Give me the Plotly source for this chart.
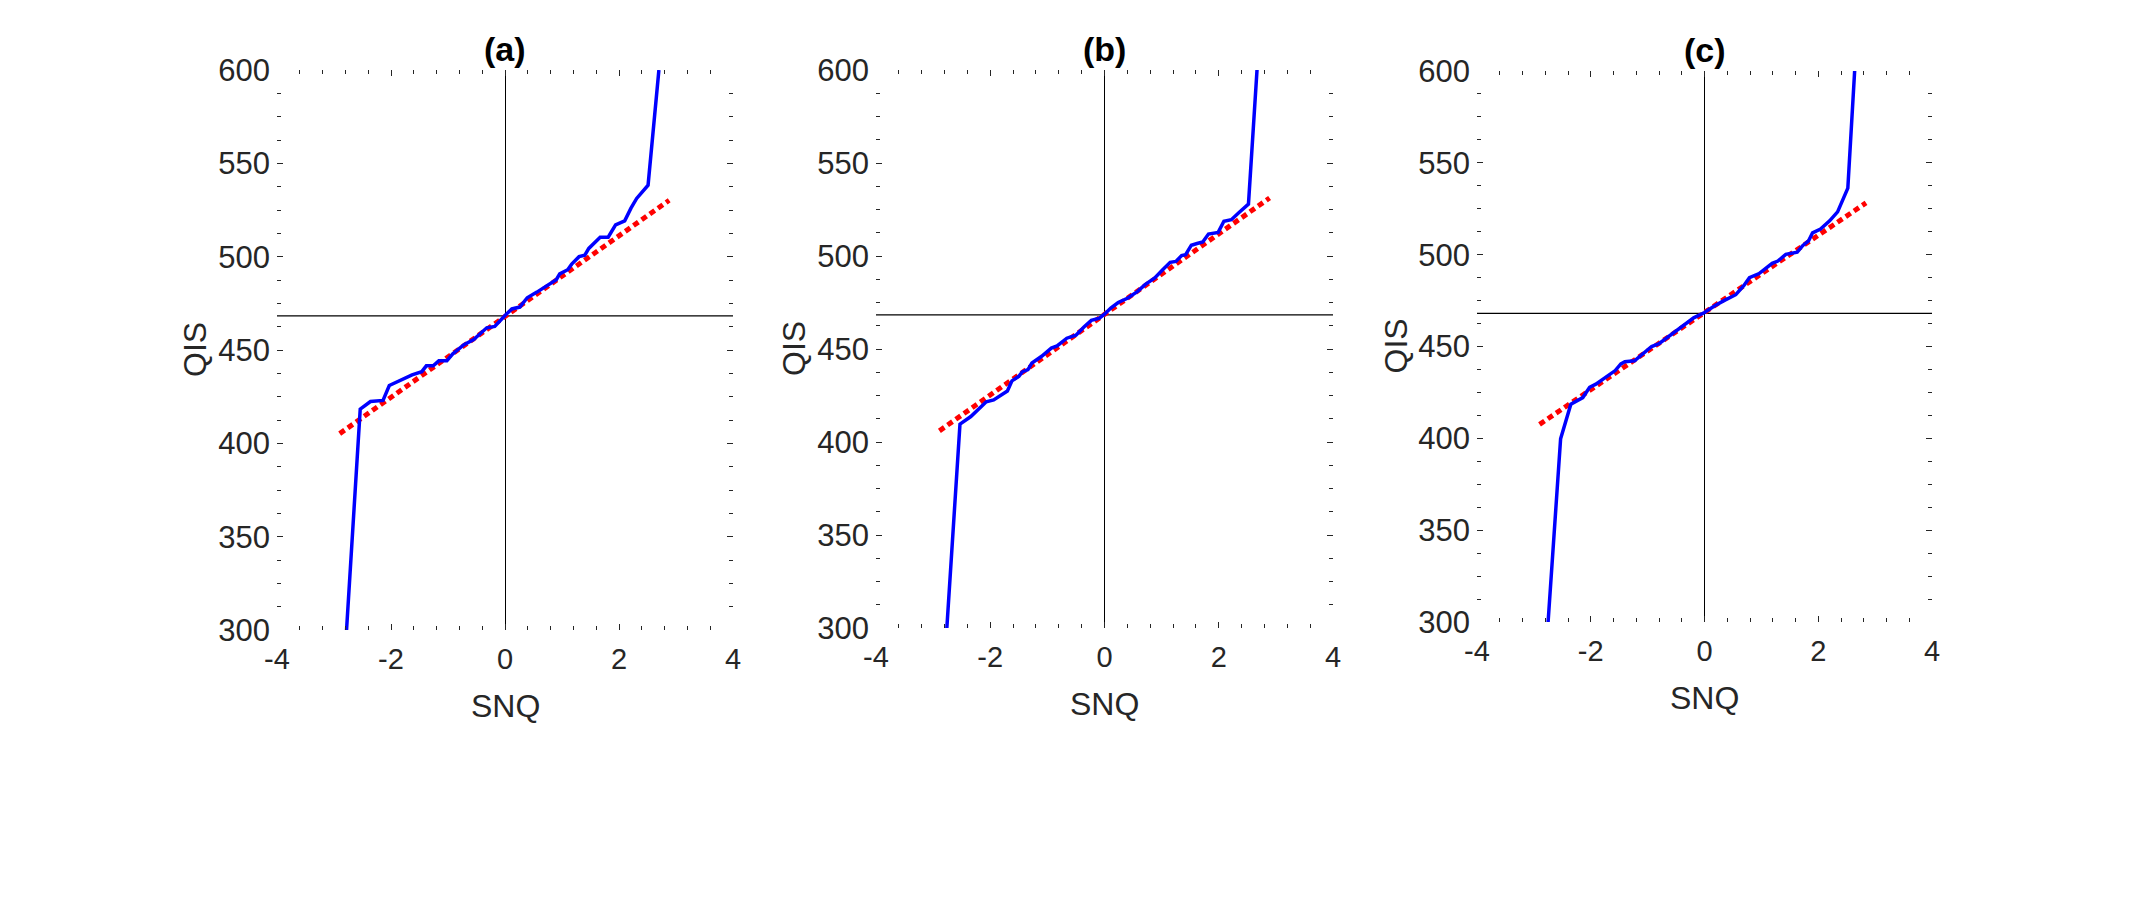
import plotly.graph_objects as go

# ---------------- data ----------------
panel_labels = ["(a)", "(b)", "(c)"]
x_title = "SNQ"
y_title = "QIS"

a_snq = [-2.78, -2.54, -2.36, -2.14, -2.03, -1.87, -1.63, -1.46, -1.38, -1.26, -1.16, -1.02,
         -0.92, -0.72, -0.55, -0.32, -0.18, 0.0, 0.12, 0.26, 0.39, 0.56, 0.76, 0.90, 0.96,
         1.10, 1.17, 1.30, 1.40, 1.47, 1.67, 1.81, 1.94, 2.10, 2.21, 2.31, 2.51, 2.70]
a_qis = [300.0, 418.3, 422.4, 423.0, 431.0, 433.4, 436.7, 438.4, 441.5, 441.5, 444.2, 444.2,
         447.8, 452.8, 455.6, 461.9, 462.6, 468.5, 472.0, 473.0, 478.0, 481.0, 484.8, 487.7, 490.8,
         493.0, 496.0, 500.0, 500.8, 504.4, 510.4, 510.4, 517.0, 519.2, 526.0, 531.2, 538.3, 600.0]

b_snq = [-2.76, -2.53, -2.34, -2.21, -2.07, -1.94, -1.84, -1.70, -1.62, -1.50, -1.44, -1.34,
         -1.27, -1.10, -0.93, -0.83, -0.66, -0.50, -0.36, -0.23, -0.09, 0.0, 0.11, 0.24, 0.41,
         0.58, 0.71, 0.88, 1.01, 1.15, 1.25, 1.35, 1.42, 1.52, 1.62, 1.72, 1.82, 1.99, 2.09,
         2.22, 2.36, 2.52, 2.67]
b_qis = [300.0, 409.6, 413.7, 417.3, 421.6, 422.6, 424.5, 427.4, 432.9, 435.3, 437.7, 438.9,
         442.5, 446.1, 450.5, 451.7, 455.8, 457.4, 461.8, 465.4, 466.6, 468.7, 472.0, 475.0, 477.4,
         481.0, 484.6, 488.2, 492.3, 496.6, 497.1, 500.2, 500.7, 505.8, 506.7, 507.5, 511.8, 512.7, 518.7,
         519.5, 523.5, 527.9, 600.0]

c_snq = [-2.75, -2.53, -2.35, -2.14, -2.02, -1.91, -1.74, -1.57, -1.47, -1.40, -1.23, -1.06,
         -0.93, -0.80, -0.59, -0.39, -0.19, 0.0, 0.18, 0.35, 0.55, 0.69, 0.79, 0.96, 1.19,
         1.29, 1.43, 1.63, 1.73, 1.83, 1.90, 2.04, 2.20, 2.34, 2.52, 2.64]
c_qis = [300.0, 399.8, 418.6, 422.2, 427.8, 429.5, 433.2, 436.9, 440.5, 441.7, 442.2, 446.6,
         450.0, 451.5, 456.3, 461.2, 465.6, 468.5, 472.2, 475.1, 478.2, 483.1, 487.5, 489.7, 495.3,
         496.5, 500.2, 501.4, 505.0, 507.5, 511.9, 514.0, 518.4, 523.3, 536.2, 600.0]

# reference (fit) lines
a_fit_snq = [-2.90, 2.88]
a_fit_qis = [405.2, 530.2]
b_fit_snq = [-2.89, 2.89]
b_fit_qis = [406.0, 531.2]
c_fit_snq = [-2.90, 2.84]
c_fit_qis = [407.6, 528.2]

# horizontal reference (median) level per panel
center_qis = [468.3, 468.3, 468.0]

x_ticks = [-4, -2, 0, 2, 4]
x_tick_text = ["-4", "-2", "0", "2", "4"]
y_ticks = [300, 350, 400, 450, 500, 550, 600]

# ---------------- figure ----------------
series = [(a_snq, a_qis, a_fit_snq, a_fit_qis),
          (b_snq, b_qis, b_fit_snq, b_fit_qis),
          (c_snq, c_qis, c_fit_snq, c_fit_qis)]

W, H = 2136, 911
px_x = [(277, 733), (876, 1333), (1477, 1932)]
px_y = [(70, 630), (70, 628), (71, 622)]

TXT = "#262626"
FONT = "Liberation Sans, Arial, Helvetica, sans-serif"

fig = go.Figure()
layout = dict(width=W, height=H, margin=dict(l=0, r=0, t=0, b=0, autoexpand=False),
              paper_bgcolor="white", plot_bgcolor="white", showlegend=False,
              font=dict(family=FONT, color=TXT))
annotations = []
shapes = []

for i, (sx, sy, fx, fy) in enumerate(series):
    n = "" if i == 0 else str(i + 1)
    xa, ya = "x" + n, "y" + n
    fig.add_trace(go.Scatter(x=fx, y=fy, mode="lines", xaxis=xa, yaxis=ya,
                             line=dict(color="#FF0000", width=5, dash="6px,4px")))
    fig.add_trace(go.Scatter(x=sx, y=sy, mode="lines", xaxis=xa, yaxis=ya,
                             line=dict(color="#0000FF", width=3.5)))
    xd = [px_x[i][0] / W, px_x[i][1] / W]
    yd = [1 - px_y[i][1] / H, 1 - px_y[i][0] / H]
    layout["xaxis" + n] = dict(
        domain=xd, anchor=ya, range=[-4, 4], tickvals=x_ticks, ticktext=x_tick_text,
        ticks="inside", ticklen=6, tickwidth=1, tickcolor=TXT, mirror="ticks",
        minor=dict(ticks="inside", dtick=0.4, tick0=0, ticklen=4, tickcolor=TXT, showgrid=False),
        showline=False, showgrid=False, zeroline=True, zerolinecolor="#000000", zerolinewidth=1.3,
        tickfont=dict(size=29, color=TXT, family=FONT), ticklabelstandoff=9,
        automargin=False, fixedrange=True)
    layout["yaxis" + n] = dict(
        domain=yd, anchor=xa, range=[300, 600], tickvals=y_ticks,
        ticks="inside", ticklen=6, tickwidth=1, tickcolor=TXT, mirror="ticks",
        minor=dict(ticks="inside", dtick=12.5, tick0=300, ticklen=4, tickcolor=TXT, showgrid=False),
        showline=False, showgrid=False, zeroline=False,
        tickfont=dict(size=31, color=TXT, family=FONT), ticklabelstandoff=6,
        automargin=False, fixedrange=True)
    shapes.append(dict(type="line", xref=xa + " domain", yref=ya, x0=0, x1=1,
                       y0=center_qis[i], y1=center_qis[i],
                       line=dict(color="#000000", width=1.3), layer="below"))
    # panel title
    annotations.append(dict(text="<b>" + panel_labels[i] + "</b>", xref=xa, yref=ya + " domain",
                            x=0, y=1, xanchor="center", yanchor="middle", yshift=21,
                            showarrow=False, font=dict(size=34, color="#000000", family=FONT)))
    # x axis title
    annotations.append(dict(text=x_title, xref=xa, yref=ya + " domain",
                            x=0, y=0, xanchor="center", yanchor="middle", yshift=-76,
                            showarrow=False, font=dict(size=32, color=TXT, family=FONT)))
    # y axis title
    annotations.append(dict(text=y_title, xref=xa + " domain", yref=ya + " domain",
                            x=0, y=0.5, xanchor="center", yanchor="middle", xshift=-82,
                            textangle=-90, showarrow=False,
                            font=dict(size=32, color=TXT, family=FONT)))

layout["annotations"] = annotations
layout["shapes"] = shapes
fig.update_layout(**layout)
fig.write_html("out.html")
